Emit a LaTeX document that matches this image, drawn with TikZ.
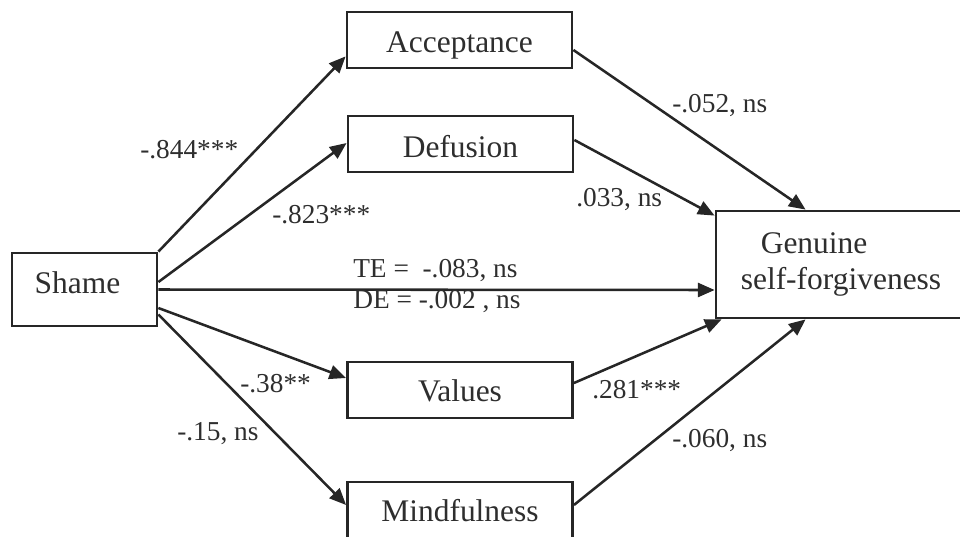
\documentclass[tikz,border=0pt]{standalone}
\usepackage{fontspec}
\setmainfont{Liberation Serif}
\usetikzlibrary{arrows.meta,calc}
\definecolor{ink}{HTML}{262626}
\definecolor{txt}{HTML}{2E2E2E}
\tikzset{
  box/.style={draw=ink, line width=2.1pt, rectangle, inner sep=0pt, text=txt,
    font=\fontsize{23.6}{28}\selectfont},
  mid/.style={box, minimum width=168.75pt, minimum height=42pt, text height=15.6pt, text depth=0pt},
  path/.style={draw=ink, line width=1.9pt, -{Triangle[length=12.5pt,width=10.5pt]}},
  lab/.style={anchor=base west, inner sep=0pt, text=txt, font=\fontsize{20.5}{24}\selectfont}
}
\begin{document}
\begin{tikzpicture}[x=0.75pt,y=-0.75pt]
\useasboundingbox (0,0) rectangle (960,536);
% boxes
\node[box, minimum width=108.75pt, minimum height=54.75pt, text height=15.6pt, text depth=0pt] (shame) at (84.5,289.5) {\raisebox{4.9pt}{\kern-5.25pt Shame\kern5.25pt}};
\node[mid] (acc) at (459.5,40) {\raisebox{-1.5pt}{Acceptance}};
\node[mid] (def) at (460.5,144) {\raisebox{-2pt}{Defusion}};
\node[mid] (val) at (460,390) {\raisebox{-0.5pt}{Values}};
\node[mid] (mind) at (460,510) {\raisebox{-0.5pt}{Mindfulness}};
\node[box, minimum width=187.5pt, minimum height=80.25pt, align=left] (gsf) at (841,264.5)
  {\hspace*{15pt}Genuine\\[-1pt]self-forgiveness};
% paths from Shame
\draw[path] (shame.north east) -- ($(acc.south west)+(0,-13)$);
\draw[path] ($(shame.east)+(0,-7.5)$) -- ($(def.west)+(0,-1)$);
\draw[path] (shame.east) -- ($(gsf.west)+(0,25.5)$);
\draw[path] ($(shame.east)+(0,18.5)$) -- ($(val.west)+(0,-12)$);
\draw[path] ($(shame.east)+(0,25)$) -- ($(mind.west)+(0,-5)$);
% paths to Genuine self-forgiveness
\draw[path] ($(acc.east)+(0,10)$) -- ($(gsf.north west)+(91,0)$);
\draw[path] ($(def.east)+(0,-4)$) -- ($(gsf.north west)+(0,6)$);
\draw[path] ($(val.east)+(0,-7)$) -- ($(gsf.south west)+(7,0)$);
\draw[path] ($(mind.east)+(0,-5)$) -- ($(gsf.south west)+(91,0)$);
% labels
\node[lab] (l1) at (140,158) {-.844***};
\node[lab] (l2) at (272,223) {-.823***};
\node[lab] (l3) at (672,112) {-.052, ns};
\node[lab] (l4) at (576,206) {.033, ns};
\node[lab] (l5) at (353,277) {TE =\ \ -.083, ns};
\node[lab] (l6) at (353,308) {DE = -.002 , ns};
\node[lab] (l7) at (240,392) {-.38**};
\node[lab] (l8) at (177,440) {-.15, ns};
\node[lab] (l9) at (592,398) {.281***};
\node[lab] (l10) at (672,447) {-.060, ns};
\end{tikzpicture}
\end{document}
